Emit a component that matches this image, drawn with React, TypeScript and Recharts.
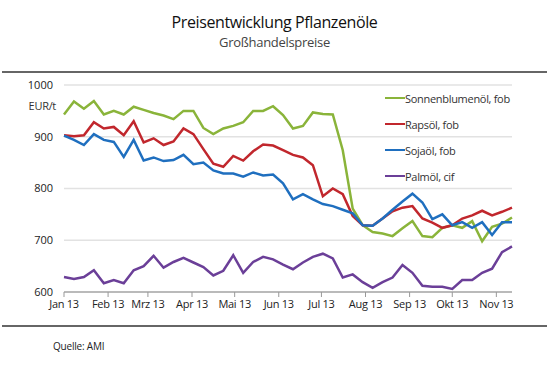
import {
  LineChart,
  Line,
  XAxis,
  YAxis,
  CartesianGrid,
} from "recharts";

// weekly observations, day offset from 1 Jan 2013
const days = [
  0, 7, 14, 21, 28, 35, 42, 49, 56, 63, 70, 77, 84, 91, 98, 105, 112, 119, 126, 133, 140, 147, 154,
  161, 168, 175, 182, 189, 196, 203, 210, 217, 224, 231, 238, 245, 252, 259, 266, 273, 280, 287,
  294, 301, 308, 315,
];

const sonnenblumen = [
  943, 968, 954, 969, 943, 950, 943, 958, 952, 946, 941, 934, 950, 950, 917, 905, 916, 921, 928, 950,
  950, 959, 942, 916, 921, 947, 944, 943, 874, 761, 729, 716, 713, 708, 723, 737, 708, 706, 724, 729,
  724, 737, 698, 726, 732, 744,
];

const raps = [
  903, 901, 903, 928, 916, 919, 903, 930, 889, 897, 884, 891, 916, 905, 876, 848, 842, 863, 854, 872,
  885, 883, 874, 865, 860, 845, 785, 800, 789, 747, 729, 728, 742, 756, 763, 766, 742, 734, 724, 729,
  742, 748, 757, 748, 755, 763,
];

const soja = [
  902, 894, 884, 905, 894, 890, 861, 894, 854, 860, 853, 855, 865, 847, 850, 835, 829, 829, 823, 831,
  825, 827, 810, 779, 789, 779, 770, 766, 759, 752, 729, 728, 742, 759, 775, 790, 773, 741, 750, 729,
  735, 724, 735, 710, 735, 735,
];

const palm = [
  629, 625, 629, 642, 617, 623, 617, 642, 650, 670, 647, 658, 666, 657, 648, 632, 641, 671, 637, 658,
  668, 663, 653, 644, 657, 668, 674, 665, 628, 634, 619, 608, 619, 628, 652, 637, 612, 610, 610, 606,
  623, 623, 637, 645, 677, 688,
];

const monthTicks = [0, 31, 59, 90, 120, 151, 181, 212, 243, 273, 304];
const monthLabels = [
  "Jan 13", "Feb 13", "Mrz 13", "Apr 13", "Mai 13", "Jun 13",
  "Jul 13", "Aug 13", "Sep 13", "Okt 13", "Nov 13",
];
const yTicks = [600, 700, 800, 900, 1000];

const series = [
  { key: "sonnenblumen", name: "Sonnenblumenöl, fob", color: "#8ab43a" },
  { key: "raps", name: "Rapsöl, fob", color: "#c1272d" },
  { key: "soja", name: "Sojaöl, fob", color: "#1f6fbf" },
  { key: "palm", name: "Palmöl, cif", color: "#6b3f98" },
];

const data = days.map((d, i) => ({
  day: d,
  sonnenblumen: sonnenblumen[i],
  raps: raps[i],
  soja: soja[i],
  palm: palm[i],
}));

const FONT = "'Open Sans', sans-serif";

function LegendBox() {
  return (
    <div style={{ position: "absolute", top: 85, left: 385 }}>
      {series.map((s) => (
        <div
          key={s.key}
          style={{
            display: "flex",
            alignItems: "center",
            height: 26,
            fontSize: 11,
            color: "#333",
            letterSpacing: -0.3,
          }}
        >
          <span
            style={{
              display: "inline-block",
              width: 20,
              height: 2,
              background: s.color,
            }}
          />
          <span>{s.name}</span>
        </div>
      ))}
    </div>
  );
}

export default function App() {
  return (
    <div
      style={{
        position: "absolute",
        left: 0,
        top: 0,
        width: 549,
        height: 376,
        background: "#fff",
        fontFamily: FONT,
        overflow: "hidden",
      }}
    >
      <div
        style={{
          position: "absolute",
          top: 11,
          width: 549,
          textAlign: "center",
          fontSize: 16,
          color: "#111",
          letterSpacing: -0.4,
        }}
      >
        Preisentwicklung Pflanzenöle
      </div>
      <div
        style={{
          position: "absolute",
          top: 33,
          width: 549,
          textAlign: "center",
          fontSize: 13,
          color: "#444",
          letterSpacing: -0.3,
        }}
      >
        Großhandelspreise
      </div>
      <div style={{ position: "absolute", top: 71, left: 2, width: 545, height: 2, background: "#666" }} />
      <div
        style={{
          position: "absolute",
          top: 98,
          right: 549 - 56,
          fontSize: 11,
          color: "#333",
          letterSpacing: -0.3,
        }}
      >
        EUR/t
      </div>

      <div style={{ position: "absolute", left: 0, top: 0 }}>
        <LineChart
          width={549}
          height={376}
          data={data}
          margin={{ top: 85, right: 37, left: 8, bottom: 54 }}
        >
          <CartesianGrid vertical={false} stroke="#e2e2e2" strokeWidth={1.5} />
          <XAxis
            dataKey="day"
            type="number"
            domain={[0, 315]}
            ticks={monthTicks}
            tickFormatter={(v: number) => monthLabels[monthTicks.indexOf(v)] ?? ""}
            interval={0}
            height={30}
            tick={{ fill: "#222", fontSize: 11, fontFamily: FONT, letterSpacing: -0.3 }}
            tickSize={5}
            tickMargin={3}
            tickLine={{ stroke: "#999" }}
            axisLine={{ stroke: "#aaa", strokeWidth: 1.5 }}
          />
          <YAxis
            domain={[600, 1000]}
            ticks={yTicks}
            width={56}
            tick={{ fill: "#222", fontSize: 11, fontFamily: FONT }}
            tickLine={false}
            tickSize={0}
            tickMargin={11}
            axisLine={false}
          />
          {series.map((s) => (
            <Line
              key={s.key}
              dataKey={s.key}
              name={s.name}
              stroke={s.color}
              strokeWidth={2.5}
              dot={false}
              type="linear"
              isAnimationActive={false}
            />
          ))}
        </LineChart>
      </div>

      <LegendBox />

      <div style={{ position: "absolute", top: 325, left: 2, width: 545, height: 2, background: "#666" }} />
      <div
        style={{
          position: "absolute",
          top: 339,
          left: 53,
          fontSize: 10,
          color: "#222",
          letterSpacing: -0.2,
        }}
      >
        Quelle: AMI
      </div>
    </div>
  );
}
